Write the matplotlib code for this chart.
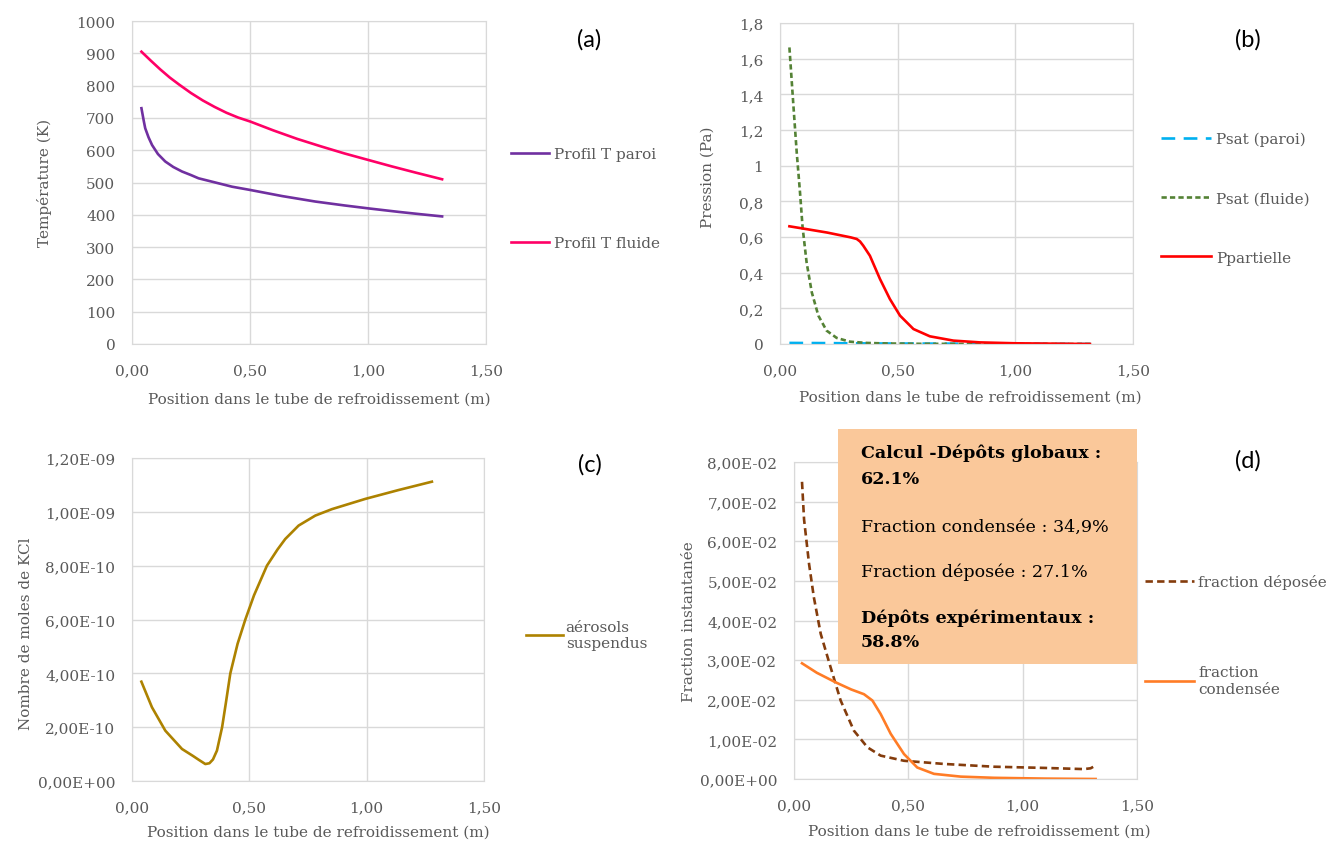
import matplotlib
matplotlib.use("Agg")
import matplotlib.pyplot as plt
from matplotlib.patches import Rectangle
from matplotlib.ticker import FuncFormatter, MultipleLocator

# (a) temperature profiles
x_paroi = [0.04, 0.05, 0.056, 0.07, 0.085, 0.11, 0.141, 0.175, 0.212, 0.25, 0.282,
           0.353, 0.424, 0.50, 0.636, 0.777, 0.90, 1.00, 1.13, 1.22, 1.314]
t_paroi = [730, 690, 668, 640, 616, 588, 565, 548, 534, 523, 513,
           500, 487, 477, 458, 441, 429, 420, 409, 402, 395]
x_fluide = [0.04, 0.08, 0.12, 0.16, 0.20, 0.25, 0.30, 0.35, 0.40, 0.45, 0.50,
            0.60, 0.70, 0.80, 0.90, 1.00, 1.10, 1.20, 1.314]
t_fluide = [905, 877, 850, 825, 803, 777, 754, 734, 716, 701, 689,
            661, 635, 612, 590, 570, 550, 531, 510]

# (b) pressures
x_psat_paroi = [0.04, 0.20, 0.40, 0.70, 1.00, 1.32]
psat_paroi = [0.006, 0.005, 0.003, 0.002, 0.001, 0.0]
x_psat_fluide = [0.04, 0.057, 0.071, 0.085, 0.096, 0.113, 0.135, 0.163, 0.198,
                 0.241, 0.297, 0.368, 0.45, 0.60, 0.80, 1.00, 1.32]
psat_fluide = [1.663, 1.336, 1.075, 0.85, 0.654, 0.458, 0.29, 0.159, 0.075,
               0.034, 0.013, 0.006, 0.003, 0.001, 0.0005, 0.0002, 0.0]
x_ppart = [0.04, 0.10, 0.20, 0.30, 0.326, 0.34, 0.354, 0.382, 0.425, 0.467,
           0.51, 0.567, 0.637, 0.737, 0.85, 1.00, 1.15, 1.317]
ppart = [0.66, 0.647, 0.625, 0.598, 0.589, 0.575, 0.551, 0.495, 0.364, 0.252,
         0.159, 0.084, 0.043, 0.019, 0.009, 0.004, 0.002, 0.0]

# (c) suspended aerosols
x_aero = [0.04, 0.085, 0.142, 0.213, 0.26, 0.284, 0.3125, 0.33, 0.345, 0.362,
          0.384, 0.40, 0.419, 0.45, 0.483, 0.52, 0.575, 0.62, 0.653, 0.71,
          0.781, 0.852, 0.994, 1.136, 1.278]
aero = [3.69e-10, 2.74e-10, 1.87e-10, 1.19e-10, 0.93e-10, 0.79e-10, 0.63e-10,
        0.66e-10, 0.80e-10, 1.13e-10, 2.0e-10, 2.9e-10, 4.0e-10, 5.1e-10,
        6.0e-10, 6.9e-10, 8.0e-10, 8.6e-10, 8.99e-10, 9.49e-10, 9.86e-10,
        10.1e-10, 10.48e-10, 10.81e-10, 11.12e-10]

# (d) instantaneous fractions
x_depo = [0.035, 0.044, 0.066, 0.087, 0.117, 0.16, 0.204, 0.262, 0.321, 0.379,
          0.481, 0.656, 0.875, 1.093, 1.268, 1.297, 1.319]
depo = [7.5e-2, 6.55e-2, 5.42e-2, 4.58e-2, 3.66e-2, 2.82e-2, 1.98e-2, 1.22e-2,
        0.8e-2, 0.59e-2, 0.46e-2, 0.38e-2, 0.31e-2, 0.28e-2, 0.25e-2, 0.27e-2,
        0.34e-2]
x_cond = [0.035, 0.10, 0.182, 0.25, 0.306, 0.343, 0.379, 0.423, 0.481, 0.539,
          0.612, 0.729, 0.875, 1.10, 1.319]
cond = [2.92e-2, 2.68e-2, 2.44e-2, 2.26e-2, 2.14e-2, 1.98e-2, 1.64e-2, 1.14e-2,
        0.63e-2, 0.29e-2, 0.13e-2, 0.06e-2, 0.03e-2, 0.01e-2, 0.0]

box_lines = [
    ("Calcul -Dépôts globaux :", "bold"),
    ("62.1%", "bold"),
    ("Fraction condensée : 34,9%", "normal"),
    ("Fraction déposée : 27.1%", "normal"),
    ("Dépôts expérimentaux :", "bold"),
    ("58.8%", "bold"),
]
box_y = [453, 480, 527, 572, 618, 643]

W, H = 1333, 845
SERIF = "DejaVu Serif"
GREY = "#595959"
GRID = "#D9D9D9"
FS = 11

fig = plt.figure(figsize=(W / 100, H / 100), dpi=100)


def px_axes(left, top, right, bottom):
    return fig.add_axes([left / W, 1 - bottom / H, (right - left) / W, (bottom - top) / H])


def comma(fmt):
    return FuncFormatter(lambda v, _: format(v, fmt).replace(".", ","))


def style(ax, ymax, ystep, yfmt, xlab_pos, ylab, ylab_pos, tag):
    ax.set_xlim(0, 1.5)
    ax.set_ylim(0, ymax)
    ax.xaxis.set_major_locator(MultipleLocator(0.5))
    ax.yaxis.set_major_locator(MultipleLocator(ystep))
    ax.xaxis.set_major_formatter(comma(".2f"))
    ax.yaxis.set_major_formatter(yfmt)
    ax.grid(True, color=GRID, lw=1)
    ax.set_axisbelow(True)
    for s in ax.spines.values():
        s.set_color(GRID)
    ax.tick_params(length=0, labelcolor=GREY, labelsize=FS)
    ax.tick_params(axis="y", pad=12)
    ax.tick_params(axis="x", pad=14)
    for lab in ax.get_xticklabels() + ax.get_yticklabels():
        lab.set_family(SERIF)
    ax.set_xlabel("Position dans le tube de refroidissement (m)", family=SERIF,
                  fontsize=FS, color=GREY, va="center")
    ax.xaxis.set_label_coords(*xlab_pos)
    ax.set_ylabel(ylab, family=SERIF, fontsize=FS, color=GREY, va="center")
    ax.yaxis.set_label_coords(*ylab_pos)
    ax.text(tag[1], tag[2], tag[0], transform=fig.transFigure, family="Lato",
            fontsize=17, ha="center", va="center", color="#000000")


def legend(ax, x, top, spacing, hlen, pad):
    ax.legend(loc="upper left", bbox_to_anchor=(x / W, 1 - top / H),
              bbox_transform=fig.transFigure, frameon=False, borderpad=0,
              borderaxespad=0, labelspacing=spacing, handlelength=hlen,
              handletextpad=pad, prop={"family": SERIF, "size": FS},
              labelcolor=GREY)


# (a)
ax = px_axes(132, 22, 486, 345)
ax.plot(x_paroi, t_paroi, color="#7030A0", lw=1.9, label="Profil T paroi")
ax.plot(x_fluide, t_fluide, color="#FF0066", lw=1.9, label="Profil T fluide")
style(ax, 1000, 100, FuncFormatter(lambda v, _: f"{v:.0f}"), (0.528, -0.17),
      "Température (K)", (-0.246, 0.502), ("(a)", 589 / W, 1 - 40 / H))
legend(ax, 511, 148, 4.9, 2.5, 0.3)

# (b)
ax = px_axes(780, 24, 1133, 345)
ax.plot(x_psat_paroi, psat_paroi, color="#00B0F0", lw=1.9, dashes=(5.2, 3.2),
        label="Psat (paroi)")
ax.plot(x_psat_fluide, psat_fluide, color="#548235", lw=1.9, dashes=(2.0, 1.2),
        label="Psat (fluide)")
ax.plot(x_ppart, ppart, color="#FF0000", lw=1.9, label="Ppartielle")
style(ax, 1.8, 0.2, FuncFormatter(lambda v, _: f"{round(v, 1):g}".replace(".", ",")),
      (0.538, -0.165), "Pression (Pa)", (-0.204, 0.523), ("(b)", 1248 / W, 1 - 40 / H))
legend(ax, 1161, 133, 2.95, 3.3, 0.3)

# (c)
ax = px_axes(132, 459, 484, 782)
ax.plot(x_aero, aero, color="#AD8200", lw=1.9, label="aérosols\nsuspendus")
style(ax, 1.2e-9, 2e-10, comma(".2E"), (0.528, -0.158),
      "Nombre de moles de KCl", (-0.301, 0.458), ("(c)", 590 / W, 1 - 465 / H))
legend(ax, 526, 621, 1.0, 2.4, 0.2)

# (d)
ax = px_axes(794, 463, 1137, 780)
ax.plot(x_depo, depo, color="#843C0C", lw=1.9, dashes=(2.8, 1.6),
        label="fraction déposée")
ax.plot(x_cond, cond, color="#FF7C26", lw=1.9, label="fraction\ncondensée")
style(ax, 8e-2, 1e-2, comma(".2E"), (0.539, -0.164),
      "Fraction instantanée", (-0.306, 0.50), ("(d)", 1248 / W, 1 - 461 / H))
legend(ax, 1145, 575, 5.0, 3.2, 0.3)

fig.patches.append(Rectangle((838 / W, 1 - 665 / H), (1137 - 838) / W, (665 - 430) / H,
                             transform=fig.transFigure, facecolor="#FAC89A",
                             edgecolor="none", zorder=5))
for (txt, weight), y in zip(box_lines, box_y):
    fig.text(861 / W, 1 - y / H, txt, family=SERIF, fontsize=12.6, weight=weight,
             va="center", ha="left", color="#000000", zorder=6)

fig.savefig("out.png", dpi=100)
